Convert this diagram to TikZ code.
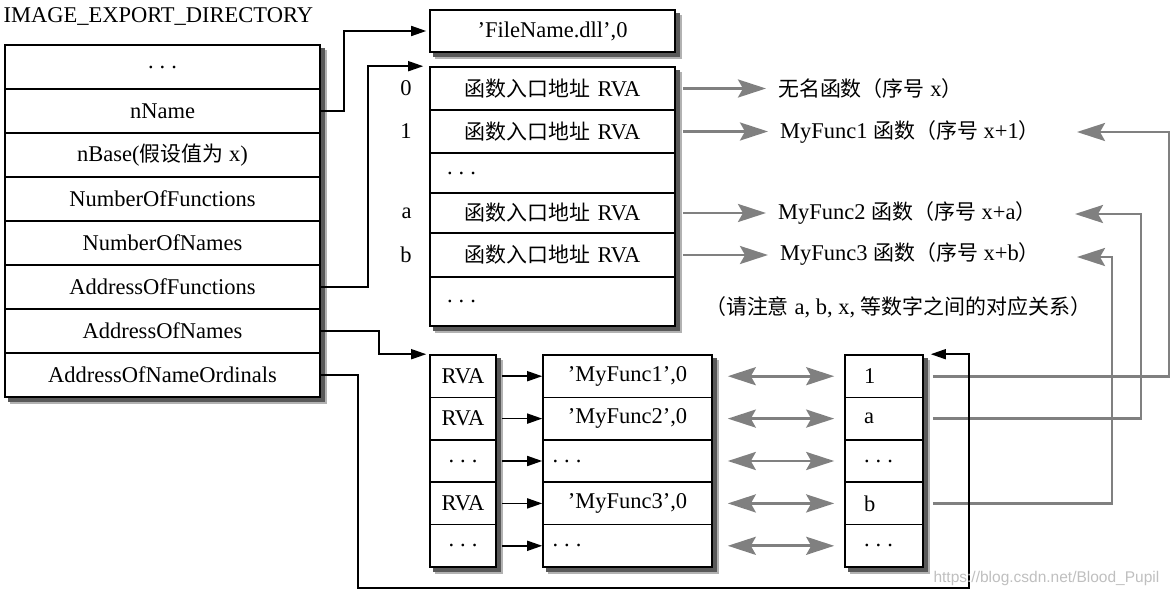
\documentclass[tikz,border=0pt]{standalone}
\usepackage{fontspec}
\setmainfont{Liberation Serif}
\newfontfamily\cjk[Scale=0.93]{Noto Sans CJK SC}
\newfontfamily\wmfont{Liberation Sans}
\usetikzlibrary{positioning,arrows.meta,backgrounds}

\newcommand{\ddd}{.\hspace{6pt}.\hspace{6pt}.}
\newcommand{\entry}{{\cjk 函数入口地址} RVA}

\tikzset{
  box/.style={draw, line width=1.6pt, inner sep=0pt},
  dircell/.style={box, minimum width=315pt, minimum height=44pt},
  fncell/.style={box, minimum width=245pt, text width=211pt},
  rvacell/.style={box, minimum width=66pt, minimum height=42.4pt},
  namecell/.style={box, minimum width=169pt, minimum height=42.4pt, text width=150pt},
  ordcell/.style={box, minimum width=78pt, minimum height=42.4pt, text width=40pt, align=left},
  tableshadow/.style={fill=white,
    preaction={fill=black!30, transform canvas={xshift=6pt, yshift=-6pt}},
    preaction={fill=black!65, transform canvas={xshift=4pt, yshift=-4pt}}},
  link/.style={line width=1.6pt, -{Triangle[length=15pt,width=10pt]}},
  glink/.style={draw=black!50, line width=2.8pt, -{Stealth[length=28pt,width=18pt,inset=5pt]}},
  gboth/.style={draw=black!50, line width=2.8pt, {Stealth[length=28pt,width=18pt,inset=5pt]}-{Stealth[length=28pt,width=18pt,inset=5pt]}},
  gtext/.style={anchor=west, inner sep=0pt},
}

\begin{document}
\begin{tikzpicture}[x=1pt, y=-1pt, font=\fontsize{22.5}{26}\selectfont]
\useasboundingbox (0,0) rectangle (1174,597);

\node[anchor=west] (title) at (0,17) {IMAGE\_EXPORT\_DIRECTORY};

% export directory
\foreach \t [count=\i from 0] in {\ddd, nName, {nBase({\cjk 假设值为} x)}, NumberOfFunctions,
    NumberOfNames, AddressOfFunctions, AddressOfNames, AddressOfNameOrdinals}
  \node[dircell] (d\i) at (162.5, {67+44*\i}) {\t};

\node[box, minimum width=245pt, minimum height=42pt] (fname) at (552.5,31) {’FileName.dll’,0};

% function address table
\foreach \y/\h/\t/\s [count=\i from 0] in {88.5/43/\entry/center, 131.5/43/\entry/center,
    173/40/\ddd/left, 213/40/\entry/center, 255/44/\entry/center, 301.5/49/\ddd/left}
  \node[fncell, minimum height=\h pt, align=\s] (fn\i) at (552.5,\y) {\t};

\node[left=14pt of fn0.west] (i0) {0};
\node[left=14pt of fn1.west] (i1) {1};
\node[left=14pt of fn3.west] (ia) {a};
\node[left=14pt of fn4.west] (ib) {b};

% name tables
\foreach \r/\n/\s/\o [count=\i from 0] in {RVA/{'MyFunc1',0}/center/1, RVA/{'MyFunc2',0}/center/a,
    \ddd/\ddd/left/\ddd, RVA/{'MyFunc3',0}/center/b, \ddd/\ddd/left/\ddd}
{
  \node[rvacell] (rva\i) at (463, {376.2+42.4*\i}) {\r};
  \node[namecell, align=\s] (nm\i) at (627.5, {376.2+42.4*\i}) {\n};
  \node[ordcell] (ord\i) at (884, {376.2+42.4*\i}) {\o};
  \draw[link, shorten <=5pt] (rva\i.east) -- (nm\i.west);
  \draw[gboth, shorten <=15pt, shorten >=10pt] (nm\i.east) -- (ord\i.west);
}

\begin{scope}[on background layer]
  \path[tableshadow] (d0.north west) rectangle (d7.south east);
  \path[tableshadow] (fname.north west) rectangle (fname.south east);
  \path[tableshadow] (fn0.north west) rectangle (fn5.south east);
  \path[tableshadow] (rva0.north west) rectangle (rva4.south east);
  \path[tableshadow] (nm0.north west) rectangle (nm4.south east);
  \path[tableshadow] (ord0.north west) rectangle (ord4.south east);
\end{scope}

% function names
\node[gtext] (f0) at (778,89) {{\cjk 无名函数（序号} x{\cjk ）}};
\node[gtext] (f1) at (780,132) {MyFunc1 {\cjk 函数（序号} x+1{\cjk ）}};
\node[gtext] (f3) at (778,213) {MyFunc2 {\cjk 函数（序号} x+a{\cjk ）}};
\node[gtext] (f4) at (780,254) {MyFunc3 {\cjk 函数（序号} x+b{\cjk ）}};
\node[gtext] (note) at (705,307) {{\cjk （请注意} a, b, x, {\cjk 等数字之间的对应关系）}};

\draw[glink, shorten <=7pt, shorten >=12pt] (fn0.east) -- (fn0.east -| f0.west);
\draw[glink, shorten <=7pt, shorten >=12pt] (fn1.east) -- (fn1.east -| f1.west);
\draw[glink, shorten <=7pt, shorten >=12pt] (fn3.east) -- (fn3.east -| f3.west);
\draw[glink, shorten <=7pt, shorten >=12pt] (fn4.east) -- (fn4.east -| f4.west);

% ordinals back to the names
\coordinate (t1) at (1077,132);
\coordinate (t3) at (1075,214);
\coordinate (t4) at (1077,257);
\coordinate (r1) at (1169,132);
\coordinate (r3) at (1141,214);
\coordinate (r4) at (1112,257);
\draw[glink, shorten <=9pt] (ord0.east) -| (r1) -- (t1);
\draw[glink, shorten <=9pt] (ord1.east) -| (r3) -- (t3);
\draw[glink, shorten <=9pt] (ord3.east) -| (r4) -- (t4);

% pointers from the directory
\coordinate (loopc) at (969,588);
\draw[link, shorten >=3pt] (d1.east) -- ++(23,0) |- (fname.west);
\draw[link, shorten >=6pt] (d5.east) -- ++(47,0) |- (fn0.north west);
\draw[link, shorten >=3pt] (d6.east) -- ++(58,0) |- (rva0.north west);
\draw[link, shorten >=7pt] (d7.east) -- ++(37,0) |- (loopc) |- (ord0.north east);

\node[anchor=west, font=\wmfont\fontsize{15.5}{18}\selectfont, text=black!25] (wm) at (930,578) {https://blog.csdn.net/Blood\_Pupil};
\end{tikzpicture}
\end{document}
